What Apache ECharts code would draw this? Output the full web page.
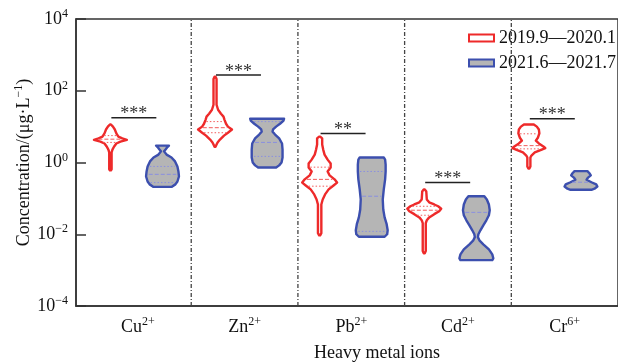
<!DOCTYPE html>
<html>
<head>
<meta charset="utf-8">
<script src="https://cdn.jsdelivr.net/npm/echarts@6/dist/echarts.min.js"></script>
<style>
html, body { margin: 0; padding: 0; background: #fff; }
#chart { width: 618px; height: 363px; }
</style>
</head>
<body>
<div id="chart"></div>
<script>
// categories
const ions = ['Cu', 'Zn', 'Pb', 'Cd', 'Cr'];
const charges = ['2+', '2+', '2+', '2+', '6+'];
const periods = ['2019.9—2020.1', '2021.6—2021.7'];
// y ticks are log10 of concentration (µg/L)
const yTicks = [-4, -2, 0, 2, 4];

// violin outlines, top to bottom: [log10 concentration, relative half width]
const cuEarly = [[1.06, 0.03], [1.00, 0.15], [0.92, 0.26], [0.81, 0.35], [0.72, 0.47], [0.67, 0.7], [0.63, 0.97], [0.58, 0.59], [0.53, 0.35], [0.44, 0.21], [0.36, 0.12], [0.28, 0.07], [-0.19, 0.07], [-0.22, 0.03]];
const znEarly = [[2.39, 0.03], [2.33, 0.09], [1.61, 0.09], [1.47, 0.18], [1.36, 0.35], [1.28, 0.5], [1.19, 0.56], [1.08, 0.65], [1.0, 0.76], [0.92, 1.0], [0.83, 0.76], [0.75, 0.53], [0.64, 0.29], [0.56, 0.15], [0.5, 0.09], [0.44, 0.03]];
const pbEarly = [[0.72, 0.03], [0.67, 0.15], [0.5, 0.15], [0.36, 0.21], [0.22, 0.29], [0.08, 0.47], [-0.03, 0.65], [-0.14, 0.65], [-0.25, 0.47], [-0.36, 0.59], [-0.47, 0.88], [-0.56, 1.03], [-0.64, 0.82], [-0.75, 0.53], [-0.89, 0.32], [-1.03, 0.18], [-1.17, 0.1], [-1.97, 0.1], [-2.03, 0.03]];
const cdEarly = [[-0.75, 0.03], [-0.81, 0.12], [-1.03, 0.15], [-1.11, 0.29], [-1.17, 0.59], [-1.22, 0.82], [-1.29, 1.0], [-1.36, 0.88], [-1.44, 0.59], [-1.53, 0.29], [-1.61, 0.15], [-1.69, 0.09], [-2.47, 0.09], [-2.53, 0.03]];
const crEarly = [[1.06, 0.29], [1.0, 0.47], [0.92, 0.59], [0.81, 0.62], [0.69, 0.53], [0.61, 0.41], [0.53, 0.59], [0.44, 0.88], [0.40, 0.97], [0.36, 0.76], [0.28, 0.35], [0.19, 0.15], [0.14, 0.09], [-0.11, 0.09], [-0.17, 0.03]];

const cuLate = [[0.47, 0.38], [0.43, 0.29], [0.36, 0.18], [0.31, 0.09], [0.22, 0.24], [0.14, 0.53], [0.03, 0.74], [-0.11, 0.88], [-0.25, 0.94], [-0.39, 0.97], [-0.53, 0.88], [-0.61, 0.76], [-0.68, 0.53]];
const znLate = [[1.22, 1.0], [1.17, 0.97], [1.08, 0.76], [1.0, 0.53], [0.92, 0.35], [0.86, 0.32], [0.78, 0.47], [0.67, 0.71], [0.53, 0.88], [0.36, 0.91], [0.14, 0.91], [0.0, 0.85], [-0.08, 0.71], [-0.14, 0.53]];
const pbLate = [[0.14, 0.71], [0.08, 0.79], [-0.06, 0.82], [-0.25, 0.82], [-0.47, 0.79], [-0.75, 0.71], [-1.03, 0.65], [-1.31, 0.68], [-1.53, 0.76], [-1.72, 0.88], [-1.89, 0.94], [-2.0, 0.91], [-2.07, 0.76]];
const cdLate = [[-0.94, 0.47], [-1.03, 0.62], [-1.17, 0.74], [-1.33, 0.79], [-1.47, 0.74], [-1.61, 0.59], [-1.75, 0.41], [-1.89, 0.24], [-2.0, 0.12], [-2.08, 0.09], [-2.17, 0.18], [-2.28, 0.41], [-2.42, 0.74], [-2.56, 0.94], [-2.67, 1.0], [-2.72, 0.94]];
const crLate = [[-0.24, 0.38], [-0.30, 0.5], [-0.36, 0.58], [-0.42, 0.42], [-0.48, 0.33], [-0.55, 0.62], [-0.61, 0.9], [-0.67, 0.97], [-0.73, 0.8], [-0.76, 0.62]];

// quartiles (log10), null where no line is shown
const q3Early = [0.75, 1.14, -0.13, -1.22, 0.80];
const medEarly = [0.65, 0.97, -0.47, -1.33, 0.47];
const q1Early = [0.56, 0.83, -0.66, -1.47, 0.38];
const q3Late = [-0.11, 1.14, -0.25, null, null];
const medLate = [-0.33, 0.56, -0.94, -1.39, -0.55];
const q1Late = [-0.56, 0.17, -1.92, null, null];

// significance brackets
const sigLevel = [1.25, 2.44, 0.81, -0.56, 1.22];
const sigStars = ['***', '***', '**', '***', '***'];

const FONT = 'Liberation Serif';
const RED = '#ee2a2a';
const BLUE = '#3c4fae';
const GREY = '#b5b5b5';
const HALF = 0.162;   // widest half width, in x units
const OFFSET = 0.249; // violin offset from category centre

const earlyProfiles = [cuEarly, znEarly, pbEarly, cdEarly, crEarly];
const lateProfiles = [cuLate, znLate, pbLate, cdLate, crLate];

function widthAt(prof, lv) {
  for (let k = 0; k < prof.length - 1; k++) {
    const a = prof[k], b = prof[k + 1];
    if (lv <= a[0] && lv >= b[0]) {
      const t = (a[0] - lv) / (a[0] - b[0] || 1);
      return a[1] + (b[1] - a[1]) * t;
    }
  }
  return 0;
}

function violinRender(profiles, q1, med, q3, offset, look) {
  return function (params, api) {
    const i = params.dataIndex;
    const prof = profiles[i];
    const cx = i + 0.5 + offset;
    const right = prof.map(p => api.coord([cx + p[1] * HALF, p[0]]));
    const left = prof.slice().reverse().map(p => api.coord([cx - p[1] * HALF, p[0]]));
    const children = [{
      type: 'polygon',
      shape: { points: right.concat(left) },
      style: { fill: look.fill, stroke: look.stroke, lineWidth: 2.4, lineJoin: 'round' }
    }];
    [[q3[i], [1.5, 2]], [med[i], [4, 2]], [q1[i], [1.5, 2]]].forEach(([lv, dash]) => {
      if (lv == null) return;
      const w = widthAt(prof, lv) * HALF * 0.85;
      const a = api.coord([cx - w, lv]);
      const b = api.coord([cx + w, lv]);
      children.push({
        type: 'line',
        shape: { x1: a[0], y1: a[1], x2: b[0], y2: b[1] },
        style: { stroke: look.inner, lineWidth: 1, lineDash: dash }
      });
    });
    return { type: 'group', children };
  };
}

const supRich = {
  b: { fontFamily: FONT, fontSize: 18, lineHeight: 22, color: '#111' },
  s: { fontFamily: FONT, fontSize: 12, lineHeight: 12, verticalAlign: 'top', color: '#111' }
};

const chart = echarts.init(document.getElementById('chart'));
chart.setOption({
  animation: false,
  grid: { left: 76, top: 19, right: -3, bottom: 57, show: true, borderColor: '#333', borderWidth: 1.5 },
  legend: {
    orient: 'vertical', right: -3, top: 23,
    itemWidth: 25, itemHeight: 7, itemGap: 5,
    textStyle: { fontFamily: FONT, fontSize: 18, color: '#111', lineHeight: 20 },
    data: [
      { name: periods[0], icon: 'rect', itemStyle: { color: '#fff', borderColor: RED, borderWidth: 2 } },
      { name: periods[1], icon: 'rect', itemStyle: { color: GREY, borderColor: BLUE, borderWidth: 2 } }
    ]
  },
  xAxis: [
    {
      type: 'value', min: -0.08, max: 5.0,
      axisLine: { show: true, onZero: false, lineStyle: { color: '#333', width: 1.5 } },
      axisTick: { show: false },
      splitLine: { show: false },
      axisLabel: {
        customValues: ions.map((_, i) => i + 0.5),
        margin: 10,
        formatter: v => {
          const i = Math.round(v - 0.5);
          return '{b|' + ions[i] + '}{s|' + charges[i] + '}';
        },
        rich: supRich
      }
    },
    // violins sit on a slightly narrower spacing than the labels
    { type: 'value', min: -0.078, max: 5.103, show: false }
  ],
  yAxis: {
    type: 'value', min: yTicks[0], max: yTicks[yTicks.length - 1], interval: 2,
    axisLine: { show: true, onZero: false, lineStyle: { color: '#333', width: 1.5 } },
    axisTick: { show: true, inside: true, length: 10, lineStyle: { color: '#333', width: 1.5 } },
    splitLine: { show: false },
    axisLabel: {
      margin: 8,
      formatter: v => '{b|10}{s|' + (v < 0 ? '\u2212' + (-v) : v) + '}',
      rich: supRich
    },
    name: '{b|Concentration/(μg·L}{s|\u22121}{b|)}',
    nameLocation: 'middle',
    nameMoveOverlap: false,
    nameGap: 41,
    nameTextStyle: { rich: supRich }
  },
  graphic: [{
    type: 'text', x: 377, y: 353,
    style: { text: 'Heavy metal ions', fontFamily: FONT, fontSize: 18, fill: '#111', align: 'center', verticalAlign: 'middle' }
  }],
  series: [
    {
      // category dividers
      type: 'custom', xAxisIndex: 0, silent: true, z: 1,
      data: ions.slice(1).map((_, i) => [i + 1, 0]),
      renderItem: (params, api) => {
        const v = api.value(0);
        const a = api.coord([v, yTicks[0]]);
        const b = api.coord([v, yTicks[yTicks.length - 1]]);
        return {
          type: 'line',
          shape: { x1: a[0], y1: a[1], x2: b[0], y2: b[1] },
          style: { stroke: '#444', lineWidth: 1.3, lineDash: [4, 2, 1, 2] }
        };
      }
    },
    {
      type: 'custom', name: periods[0], xAxisIndex: 1, z: 3,
      itemStyle: { color: '#fff', borderColor: RED },
      data: ions.map((_, i) => [i + 0.5, medEarly[i]]),
      renderItem: violinRender(earlyProfiles, q1Early, medEarly, q3Early, -OFFSET,
        { fill: 'none', stroke: RED, inner: '#f25b5b' })
    },
    {
      type: 'custom', name: periods[1], xAxisIndex: 1, z: 3,
      itemStyle: { color: GREY, borderColor: BLUE },
      data: ions.map((_, i) => [i + 0.5, medLate[i]]),
      renderItem: violinRender(lateProfiles, q1Late, medLate, q3Late, OFFSET,
        { fill: GREY, stroke: BLUE, inner: '#8a8fe0' })
    },
    {
      // significance brackets
      type: 'custom', xAxisIndex: 1, silent: true, z: 4,
      data: ions.map((_, i) => [i + 0.5, sigLevel[i]]),
      renderItem: (params, api) => {
        const i = params.dataIndex;
        const a = api.coord([i + 0.5 - 0.24, sigLevel[i]]);
        const b = api.coord([i + 0.5 + 0.19, sigLevel[i]]);
        return {
          type: 'group',
          children: [
            { type: 'line', shape: { x1: a[0], y1: a[1], x2: b[0], y2: b[1] }, style: { stroke: '#222', lineWidth: 1.5 } },
            {
              type: 'text',
              style: {
                text: sigStars[i], x: (a[0] + b[0]) / 2, y: a[1] - 3,
                fontFamily: FONT, fontSize: 18, fill: '#333', align: 'center', verticalAlign: 'middle'
              }
            }
          ]
        };
      }
    }
  ]
});
</script>
</body>
</html>
